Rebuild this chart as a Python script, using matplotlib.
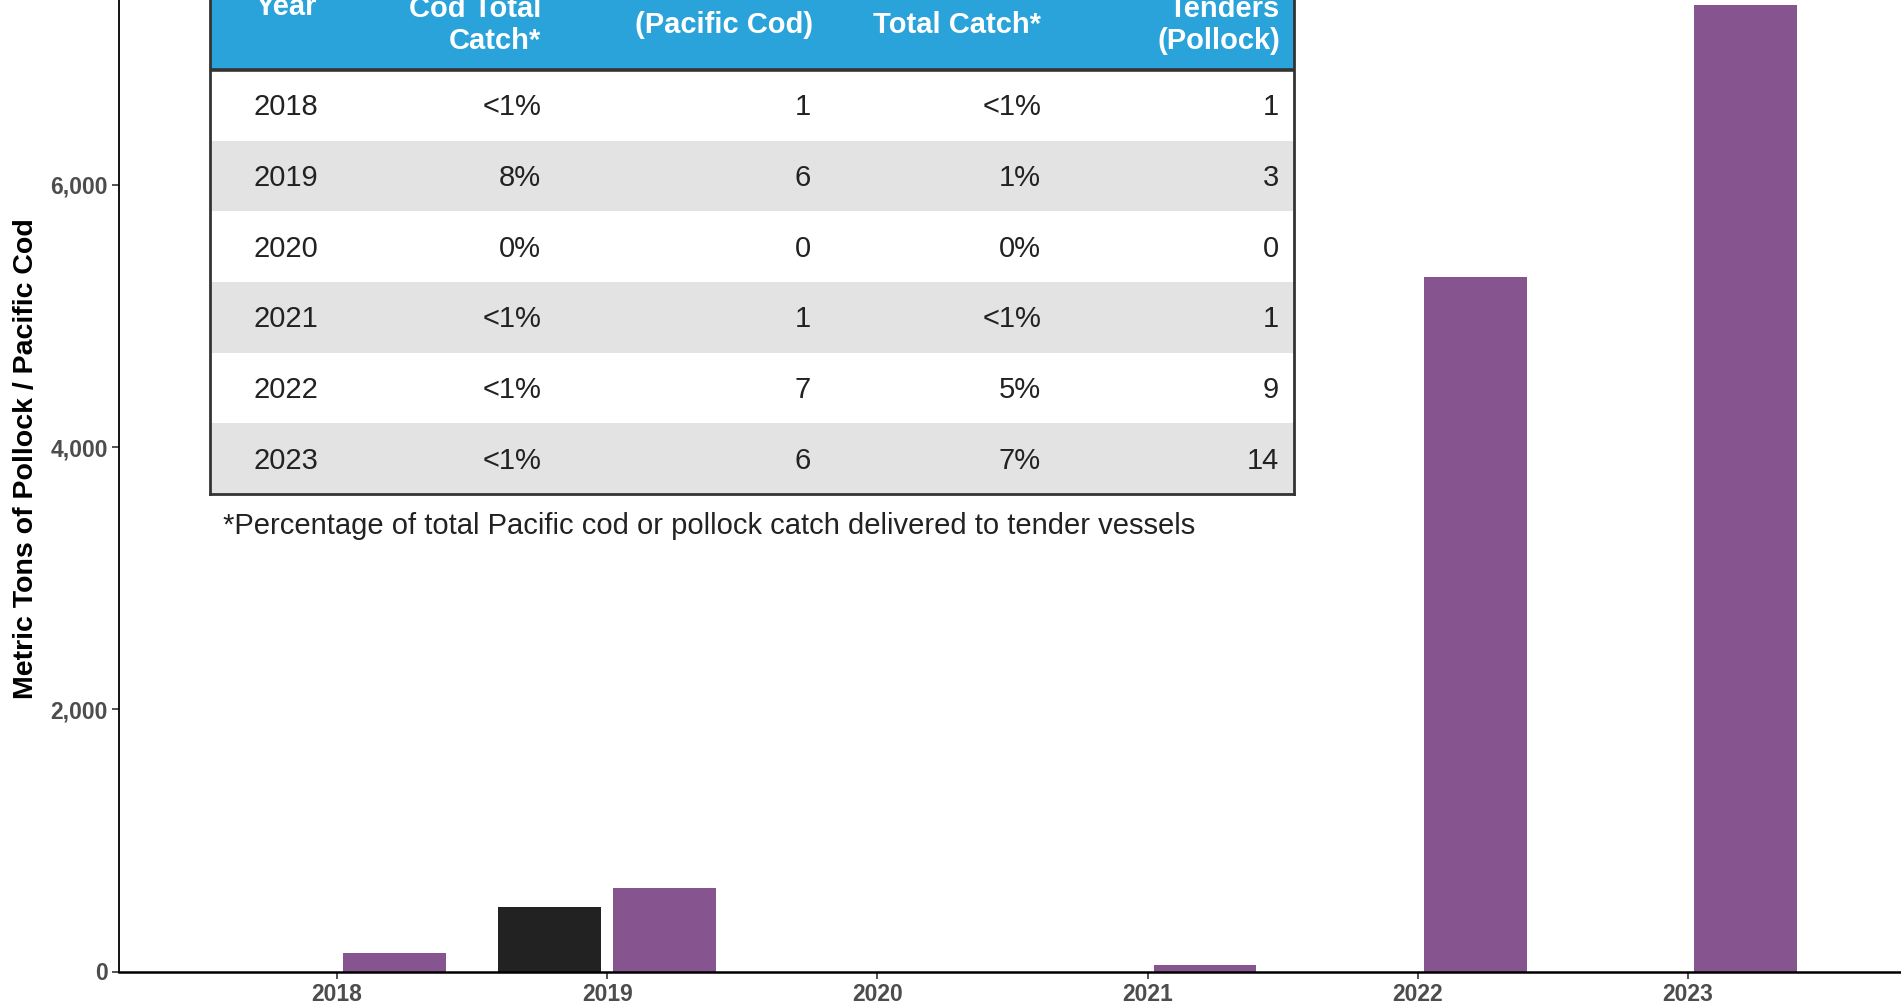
import matplotlib.pyplot as plt
import numpy as np
from matplotlib.patches import Rectangle
from matplotlib.ticker import FuncFormatter

# Données
years = ['2018', '2019', '2020', '2021', '2022', '2023']
pcod_tons = [0, 490, 0, 0, 0, 0]           # barres noires (Pacific cod)
pollock_tons = [140, 640, 0, 50, 5300, 7370]  # barres violettes (pollock)

# Tableau en incrustation
tab_years = ['2018', '2019', '2020', '2021', '2022', '2023']
cod_pct = ['<1%', '8%', '0%', '<1%', '<1%', '<1%']
cod_tenders = ['1', '6', '0', '1', '7', '6']
pollock_pct = ['<1%', '1%', '0%', '<1%', '5%', '7%']
pollock_tenders = ['1', '3', '0', '1', '9', '14']
footnote = '*Percentage of total Pacific cod or pollock catch delivered to tender vessels'

plt.rcParams['font.family'] = ['Liberation Sans', 'DejaVu Sans']

W, H = 1901, 1006
fig = plt.figure(figsize=(W / 100, H / 100), dpi=100)
fig.patch.set_facecolor('white')

# axe principal
ax = fig.add_axes([119 / W, (H - 971.5) / H, 1 - 119 / W, 971.5 / H])
x = np.arange(len(years))
bw = 0.38
off = 0.213
ax.bar(x - off, pcod_tons, bw, color='#222222', linewidth=0)
ax.bar(x + off, pollock_tons, bw, color='#86548F', linewidth=0)

ax.set_xlim(-0.807, 5.789)
ax.set_ylim(0, 7410)
ax.set_xticks(x)
ax.set_xticklabels(years)
ax.set_yticks([0, 2000, 4000, 6000])
ax.yaxis.set_major_formatter(FuncFormatter(lambda v, p: f'{int(v):,}'))
for lab in ax.get_xticklabels() + ax.get_yticklabels():
    lab.set_fontweight('bold')
    lab.set_fontsize(16.5)
    lab.set_color('#4D4D4D')
ax.tick_params(axis='both', length=5, width=1.2, color='#333333', pad=3)
for s in ['top', 'right']:
    ax.spines[s].set_visible(False)
ax.spines['left'].set_linewidth(1.3)
ax.spines['bottom'].set_linewidth(1.8)
ax.set_ylabel('Metric Tons of Pollock / Pacific Cod', fontsize=20.5,
              fontweight='bold', color='black', va='center', ha='center')
ax.yaxis.set_label_coords(-0.052, 0.528)

# tableau
tab = fig.add_axes([210 / W, (H - 494) / H, 1084 / W, 424 / H])
tab.set_xlim(0, 1084)
tab.set_ylim(6, 0)
tab.axis('off')

hdr_top = -1.9
tab.add_patch(Rectangle((0, hdr_top), 1084, -hdr_top, facecolor='#29A3D9',
                        edgecolor='none', clip_on=False))
for i in range(6):
    fc = '#E3E3E3' if i % 2 == 1 else 'white'
    tab.add_patch(Rectangle((0, i), 1084, 1, facecolor=fc, edgecolor='none', clip_on=False))

fs = 21
cols = [(76, 'center', tab_years), (331, 'right', cod_pct), (601, 'right', cod_tenders),
        (831, 'right', pollock_pct), (1069, 'right', pollock_tenders)]
for cx, ha, vals in cols:
    for i, v in enumerate(vals):
        tab.text(cx, i + 0.53, v, ha=ha, va='center', fontsize=fs, color='#222222')

# en-tête (lignes visibles seulement, le haut est rogné)
y_mid = (7 - 70) / 70.7
y_low = (25 - 70) / 70.7
hkw = dict(fontsize=fs, fontweight='bold', color='white', va='center',
           linespacing=1.2, clip_on=False)
tab.text(76, y_mid, 'Year', ha='center', **hkw)
tab.text(331, y_low, 'Cod Total\nCatch*', ha='right', multialignment='right', **hkw)
tab.text(603, y_low, '(Pacific Cod)', ha='right', **hkw)
tab.text(831, y_low, 'Total Catch*', ha='right', **hkw)
tab.text(1070, y_low, 'Tenders\n(Pollock)', ha='right', multialignment='right', **hkw)

# bordures
lc = '#333333'
tab.plot([0, 1084], [0, 0], color=lc, lw=2.6, clip_on=False, solid_capstyle='butt')
tab.plot([0, 1084], [6, 6], color=lc, lw=2.0, clip_on=False)
tab.plot([0, 0], [hdr_top, 6], color=lc, lw=2.0, clip_on=False)
tab.plot([1084, 1084], [hdr_top, 6], color=lc, lw=2.0, clip_on=False)

tab.text(13, (526 - 70) / 70.7, footnote, ha='left', va='center', fontsize=21,
         color='#222222', clip_on=False)

fig.savefig('out.png', dpi=100)
